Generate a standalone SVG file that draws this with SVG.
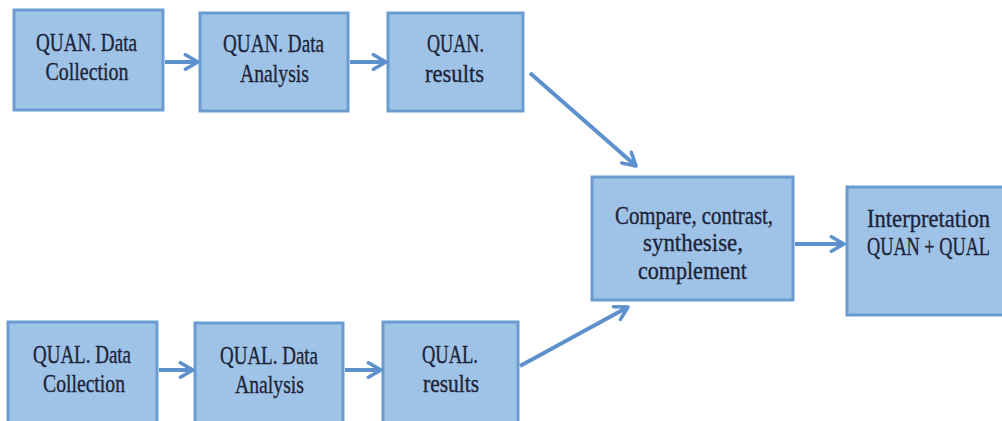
<svg xmlns="http://www.w3.org/2000/svg" width="1002" height="421" viewBox="0 0 1002 421">
  <style>
    .box { fill: #9fc3e7; stroke: #6b9bd1; stroke-width: 3; }
    .lbl { font-family: "Liberation Serif", serif; font-size: 26px; fill: #1c2438; stroke: #1c2438; stroke-width: 0.35; text-anchor: middle; }
    .conn { stroke: #5d90cc; stroke-width: 4; fill: none; }
  </style>
  <defs>
    <marker id="arr" viewBox="0 0 10 10" refX="8.5" refY="5" markerWidth="18" markerHeight="18" markerUnits="userSpaceOnUse" orient="auto">
      <path d="M1.5,1 L8.5,5 L1.5,9" fill="none" stroke="#5d90cc" stroke-width="2" stroke-linejoin="round" stroke-linecap="round"/>
    </marker>
  </defs>
  <rect width="1002" height="421" fill="#ffffff"/>

  <g id="quan-collection">
    <rect class="box" x="14" y="10" width="149" height="100"/>
    <text class="lbl" x="86.5" y="51" textLength="101" lengthAdjust="spacingAndGlyphs">QUAN. Data</text>
    <text class="lbl" x="87" y="80" textLength="83" lengthAdjust="spacingAndGlyphs">Collection</text>
  </g>
  <g id="quan-analysis">
    <rect class="box" x="200" y="13" width="148" height="98"/>
    <text class="lbl" x="273.5" y="52" textLength="101" lengthAdjust="spacingAndGlyphs">QUAN. Data</text>
    <text class="lbl" x="274.5" y="82" textLength="69" lengthAdjust="spacingAndGlyphs">Analysis</text>
  </g>
  <g id="quan-results">
    <rect class="box" x="388" y="13" width="135" height="98"/>
    <text class="lbl" x="455.5" y="52" textLength="57" lengthAdjust="spacingAndGlyphs">QUAN.</text>
    <text class="lbl" x="454.5" y="82" textLength="59" lengthAdjust="spacingAndGlyphs">results</text>
  </g>
  <g id="compare">
    <rect class="box" x="592" y="177" width="201" height="123"/>
    <text class="lbl" x="694" y="224" textLength="158" lengthAdjust="spacingAndGlyphs">Compare, contrast,</text>
    <text class="lbl" x="693" y="251" textLength="100" lengthAdjust="spacingAndGlyphs">synthesise,</text>
    <text class="lbl" x="692.5" y="279" textLength="109" lengthAdjust="spacingAndGlyphs">complement</text>
  </g>
  <g id="interpretation">
    <rect class="box" x="847" y="187" width="157" height="128"/>
    <text class="lbl" x="928.5" y="227" textLength="123" lengthAdjust="spacingAndGlyphs">Interpretation</text>
    <text class="lbl" x="928.5" y="255" textLength="123" lengthAdjust="spacingAndGlyphs">QUAN + QUAL</text>
  </g>
  <g id="qual-collection">
    <rect class="box" x="8" y="322" width="149" height="112"/>
    <text class="lbl" x="82" y="363" textLength="98" lengthAdjust="spacingAndGlyphs">QUAL. Data</text>
    <text class="lbl" x="84" y="392" textLength="82" lengthAdjust="spacingAndGlyphs">Collection</text>
  </g>
  <g id="qual-analysis">
    <rect class="box" x="195" y="323" width="148" height="112"/>
    <text class="lbl" x="269" y="364" textLength="98" lengthAdjust="spacingAndGlyphs">QUAL. Data</text>
    <text class="lbl" x="269.5" y="393" textLength="69" lengthAdjust="spacingAndGlyphs">Analysis</text>
  </g>
  <g id="qual-results">
    <rect class="box" x="383" y="322" width="135" height="112"/>
    <text class="lbl" x="450" y="363" textLength="56" lengthAdjust="spacingAndGlyphs">QUAL.</text>
    <text class="lbl" x="451" y="392" textLength="56" lengthAdjust="spacingAndGlyphs">results</text>
  </g>

  <g id="connectors">
    <line class="conn" x1="165" y1="62" x2="198" y2="62" marker-end="url(#arr)"/>
    <line class="conn" x1="350" y1="62" x2="386" y2="62" marker-end="url(#arr)"/>
    <line class="conn" x1="530" y1="73" x2="636" y2="166" marker-end="url(#arr)"/>
    <line class="conn" x1="520" y1="366" x2="628" y2="307" marker-end="url(#arr)"/>
    <line class="conn" x1="795" y1="244" x2="844" y2="244" marker-end="url(#arr)"/>
    <line class="conn" x1="159" y1="370" x2="193" y2="370" marker-end="url(#arr)"/>
    <line class="conn" x1="345" y1="370" x2="381" y2="370" marker-end="url(#arr)"/>
  </g>
</svg>
